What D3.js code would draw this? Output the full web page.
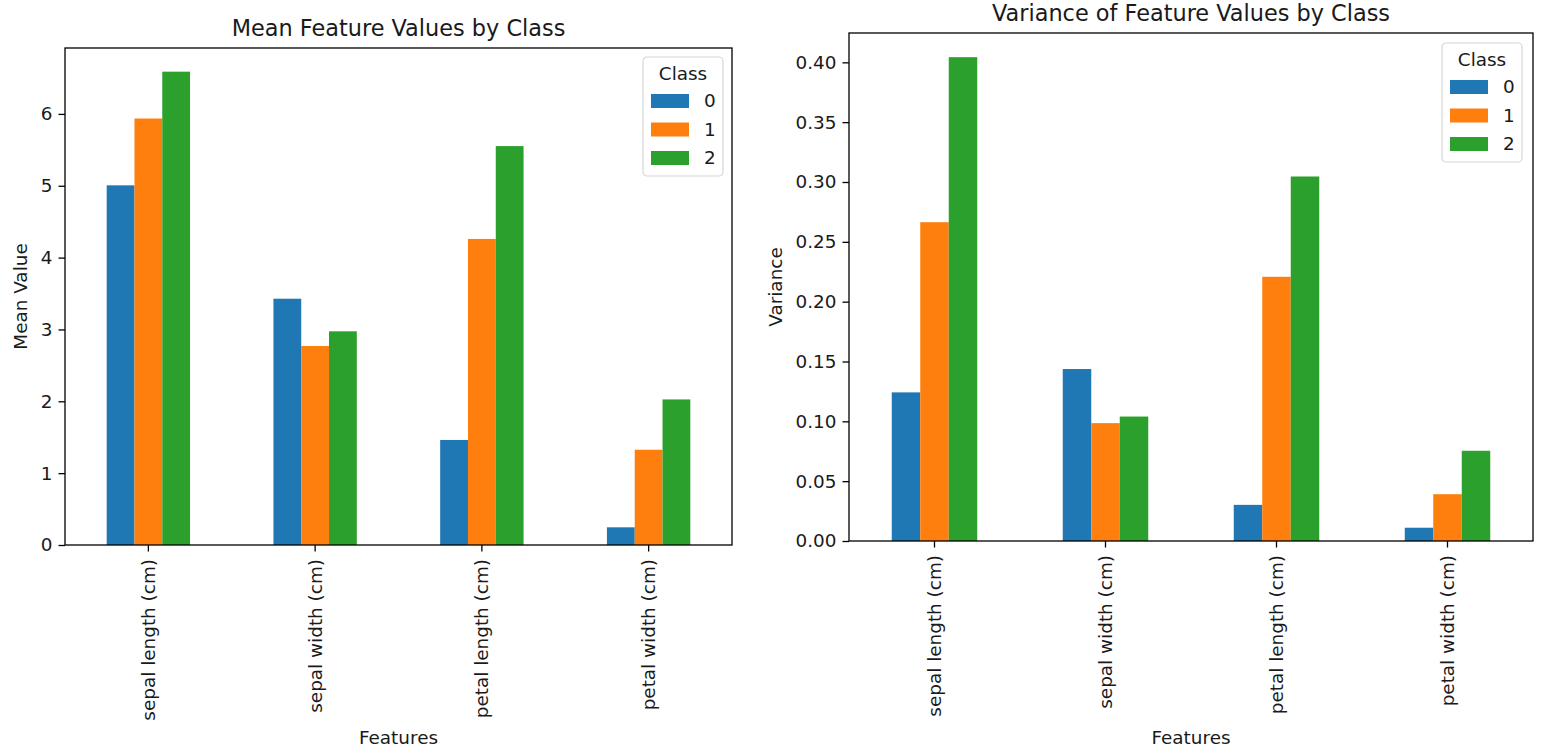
<!doctype html>
<html>
  <head>
    <script src="https://cdnjs.cloudflare.com/ajax/libs/d3/7.8.5/d3.min.js"></script>
    <style>
      body { margin: 0; background: #fff; }
      text { font-family: "DejaVu Sans", sans-serif; fill: #1a1a1a; }
    </style>
  </head>
  <body>
    <svg id="chart" width="1552" height="755"></svg>
    <script>
      var features = ["sepal length (cm)", "sepal width (cm)", "petal length (cm)", "petal width (cm)"];
      var classes = ["0", "1", "2"];
      var colors = ["#1f77b4", "#ff7f0e", "#2ca02c"];

      // one array per class, in feature order
      var mean0 = [5.006, 3.428, 1.462, 0.246];
      var mean1 = [5.936, 2.770, 4.260, 1.326];
      var mean2 = [6.588, 2.974, 5.552, 2.026];
      var var0 = [0.1242, 0.1437, 0.0302, 0.0111];
      var var1 = [0.2664, 0.0985, 0.2208, 0.0391];
      var var2 = [0.4043, 0.1040, 0.3046, 0.0754];

      var meanTicks = [0, 1, 2, 3, 4, 5, 6];
      var varTicks = [0, 0.05, 0.10, 0.15, 0.20, 0.25, 0.30, 0.35, 0.40];

      var fs = "18.4px";
      var svg = d3.select("#chart");

      var panels = [
        { title: "Mean Feature Values by Class", ylabel: "Mean Value",
          series: [mean0, mean1, mean2], ticks: meanTicks, fmt: d3.format("d"),
          left: 65, right: 732, top: 48, bottom: 545, ylabX: 27, legX: 643, legY: 57 },
        { title: "Variance of Feature Values by Class", ylabel: "Variance",
          series: [var0, var1, var2], ticks: varTicks, fmt: d3.format(".2f"),
          left: 849, right: 1533, top: 33, bottom: 541, ylabX: 782, legX: 1442, legY: 43 }
      ];

      panels.forEach(function(p) {
        var maxV = d3.max(p.series, s => d3.max(s));
        var y = d3.scaleLinear().domain([0, maxV * 1.05]).range([p.bottom, p.top]);
        var x = d3.scaleBand().domain(features).range([p.left, p.right])
          .paddingInner(0.5).paddingOuter(0.25);
        var xs = d3.scaleBand().domain(classes).range([0, x.bandwidth()]);

        var g = svg.append("g");

        classes.forEach(function(c, ci) {
          g.selectAll(null)
            .data(p.series[ci])
            .enter()
            .append("rect")
              .attr("x", (d, i) => x(features[i]) + xs(c))
              .attr("y", d => y(d))
              .attr("width", xs.bandwidth())
              .attr("height", d => y(0) - y(d))
              .attr("fill", colors[ci]);
        });

        // axes
        var yAxis = d3.axisLeft(y).tickValues(p.ticks).tickFormat(p.fmt)
          .tickSize(6.5).tickPadding(6);
        var ya = g.append("g").attr("transform", "translate(" + p.left + ",0)").call(yAxis);
        ya.select(".domain").remove();
        ya.selectAll("line").attr("stroke", "#000").attr("stroke-width", 1.3);
        ya.selectAll("text").style("font-size", fs).attr("fill", "#1a1a1a");

        var xAxis = d3.axisBottom(x).tickSize(6.5).tickPadding(6);
        var xa = g.append("g").attr("transform", "translate(0," + p.bottom + ")").call(xAxis);
        xa.select(".domain").remove();
        xa.selectAll("line").attr("stroke", "#000").attr("stroke-width", 1.3);
        xa.selectAll("text")
          .style("font-size", fs)
          .attr("fill", "#1a1a1a")
          .attr("text-anchor", "end")
          .attr("transform", "rotate(-90)")
          .attr("x", -14)
          .attr("y", 0)
          .attr("dy", "0.35em");

        // frame
        g.append("rect")
          .attr("x", p.left).attr("y", p.top)
          .attr("width", p.right - p.left).attr("height", p.bottom - p.top)
          .attr("fill", "none").attr("stroke", "#000").attr("stroke-width", 1.3);

        g.append("text")
          .attr("x", (p.left + p.right) / 2).attr("y", p.top - 12)
          .attr("text-anchor", "middle").style("font-size", "22.4px")
          .text(p.title);

        g.append("text")
          .attr("x", (p.left + p.right) / 2).attr("y", 744)
          .attr("text-anchor", "middle").style("font-size", fs)
          .text("Features");

        g.append("text")
          .attr("transform", "translate(" + p.ylabX + "," + ((p.top + p.bottom) / 2) + ") rotate(-90)")
          .attr("text-anchor", "middle").style("font-size", fs)
          .text(p.ylabel);

        // legend
        var lg = g.append("g").attr("transform", "translate(" + p.legX + "," + p.legY + ")");
        lg.append("rect")
          .attr("width", 80).attr("height", 119).attr("rx", 4)
          .attr("fill", "#fff").attr("fill-opacity", 0.8)
          .attr("stroke", "#d6d6d6").attr("stroke-width", 1.2);
        lg.append("text").attr("x", 40).attr("y", 23)
          .attr("text-anchor", "middle").style("font-size", fs).text("Class");
        classes.forEach(function(c, ci) {
          lg.append("rect")
            .attr("x", 8).attr("y", 37 + ci * 28.5)
            .attr("width", 38).attr("height", 14)
            .attr("fill", colors[ci]);
          lg.append("text")
            .attr("x", 61).attr("y", 44 + ci * 28.5).attr("dy", "0.35em")
            .style("font-size", fs).text(c);
        });
      });
    </script>
  </body>
</html>
